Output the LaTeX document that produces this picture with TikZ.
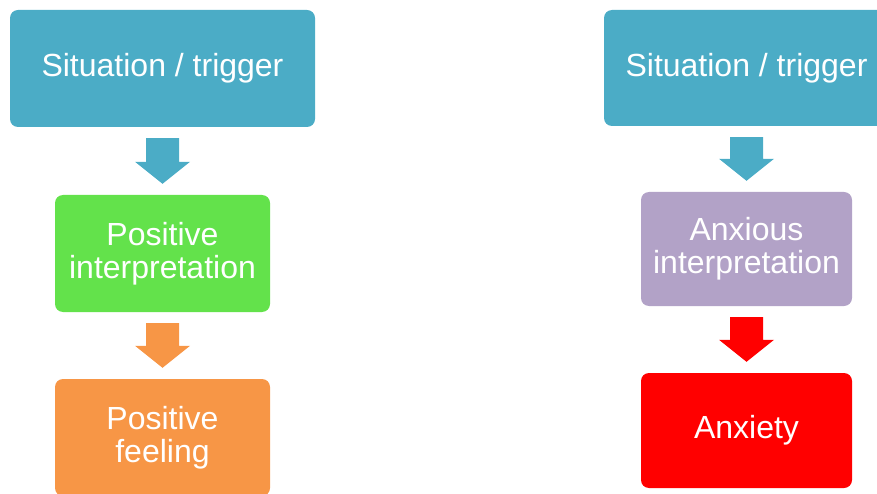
\documentclass[tikz,border=0pt]{standalone}
\usepackage{fontspec}
\setmainfont{Liberation Sans}
\usetikzlibrary{calc}
\definecolor{trigblue}{HTML}{4BACC6}
\definecolor{posgreen}{HTML}{63E24B}
\definecolor{feelorange}{HTML}{F79646}
\definecolor{anxpurple}{HTML}{B2A2C7}
\definecolor{anxred}{HTML}{FF0000}
\tikzset{
    stagebox/.style={rounded corners=8pt, inner sep=0pt, align=center,
        text=white, font=\fontsize{32}{33}\selectfont},
}
\newcommand{\flowarrow}[3]{% from, to, colour
    \fill[#3] ($(#1.south)+(-16.5,-11)$) -- ($(#1.south)+(16.5,-11)$)
        -- ($(#2.north)+(16.5,33)$) -- ($(#2.north)+(27.5,33)$)
        -- ($(#2.north)+(0,11)$) -- ($(#2.north)+(-27.5,33)$)
        -- ($(#2.north)+(-16.5,33)$) -- cycle
}

\begin{document}
\begin{tikzpicture}[x=1pt, y=1pt]
        \useasboundingbox (0, 0) rectangle (877, 493);
        \clip (0, 0) rectangle (877, 493);
        \node[stagebox, fill=trigblue, minimum width=305pt, minimum height=117pt]
            (sitL) at (162.5, 424.5) {Situation / trigger};
        \node[stagebox, fill=posgreen, minimum width=215pt, minimum height=117pt]
            (posint) at (162.5, 239.5) {Positive\\interpretation};
        \node[stagebox, fill=feelorange, minimum width=215pt, minimum height=117pt]
            (posfeel) at (162.5, 55.5) {Positive\\feeling};
        \flowarrow{sitL}{posint}{trigblue};
        \flowarrow{posint}{posfeel}{feelorange};
        \node[stagebox, fill=trigblue, minimum width=285pt, minimum height=116pt]
            (sitR) at (746.5, 425) {Situation / trigger};
        \node[stagebox, fill=anxpurple, minimum width=211pt, minimum height=114pt]
            (anxint) at (746.5, 244) {Anxious\\interpretation};
        \node[stagebox, fill=anxred, minimum width=211pt, minimum height=115pt]
            (anxiety) at (746.5, 62.5) {Anxiety};
        \flowarrow{sitR}{anxint}{trigblue};
        \flowarrow{anxint}{anxiety}{anxred};
    \end{tikzpicture}
\end{document}
